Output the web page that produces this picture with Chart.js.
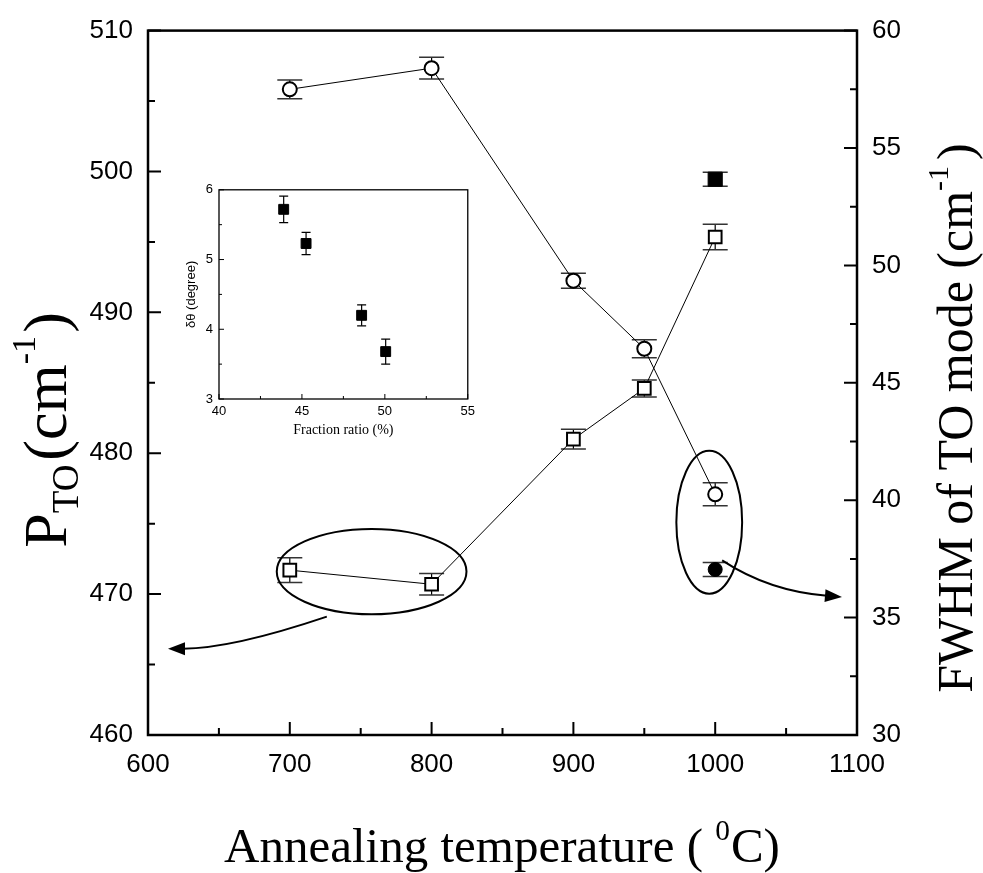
<!DOCTYPE html>
<html><head><meta charset="utf-8">
<script src="https://cdn.jsdelivr.net/npm/chart.js@4.4.0/dist/chart.umd.min.js"></script>
<style>
html,body{margin:0;padding:0;background:#fff;}
#wrap{position:relative;width:983px;height:873px;overflow:hidden;}
#main{position:absolute;left:0;top:0;}
#inset{position:absolute;left:150px;top:176px;}
</style></head><body>
<div id="wrap"><canvas id="main" width="983" height="873"></canvas><canvas id="inset" width="330" height="264"></canvas></div>
<script>
// ---- data ----
const temps = [700, 800, 900, 950, 1000];
const ptoValues = [471.7, 470.7, 481.0, 484.6, 495.35];
const ptoErrors = [0.88, 0.77, 0.7, 0.6, 0.9];
const fwhmValues = [57.5, 58.4, 49.35, 46.45, 40.25];
const fwhmErrors = [0.4, 0.46, 0.32, 0.38, 0.49];
const extraTemps = [1000];
const ptoExtra = [499.45];
const ptoExtraErrors = [0.5];
const fwhmExtra = [37.05];
const fwhmExtraErrors = [0.3];
const fractionRatio = [43.9, 45.25, 48.6, 50.05];
const deltaTheta = [5.72, 5.23, 4.2, 3.68];
const deltaThetaErrors = [0.19, 0.16, 0.15, 0.18];

// annotations (data coordinates: x = temperature, y = left axis)
const ellipses = [
  {cx: 757.7, cy: 471.6, rx: 66.9, ry: 3.03},
  {cx: 995.8, cy: 475.1, rx: 23.2, ry: 5.07}
];
const arrows = [
  {from: [726.1, 468.4], ctrl: [659.2, 466.13], to: [614.1, 466.13]},
  {from: [1004.9, 472.39], ctrl: [1038, 470.2], to: [1089.4, 469.8]}
];

const SANS = "'Liberation Sans', Arial, sans-serif";
const SERIF = "'Liberation Serif', 'Times New Roman', serif";
const plainLabel = v => String(v);

// ---- plugins ----
const errorBarPlugin = {
  id: 'errbars',
  beforeDatasetsDraw(chart) {
    const ctx = chart.ctx;
    chart.data.datasets.forEach((ds, i) => {
      if (!ds.errors) return;
      const meta = chart.getDatasetMeta(i);
      const ys = chart.scales[meta.yAxisID];
      ds.data.forEach((p, j) => {
        const x = meta.data[j].x;
        const yt = ys.getPixelForValue(p.y + ds.errors[j]);
        const yb = ys.getPixelForValue(p.y - ds.errors[j]);
        ctx.save();
        ctx.strokeStyle = '#000';
        ctx.lineWidth = 1.2;
        ctx.beginPath(); ctx.moveTo(x, yt); ctx.lineTo(x, yb); ctx.stroke();
        ctx.strokeStyle = ds.capColor || '#333';
        ctx.lineWidth = ds.capLine || 1.5;
        const hw = ds.capHalf;
        ctx.beginPath();
        ctx.moveTo(x - hw, yt); ctx.lineTo(x + hw, yt);
        ctx.moveTo(x - hw, yb); ctx.lineTo(x + hw, yb);
        ctx.stroke();
        ctx.restore();
      });
    });
  }
};

function makeFramePlugin(cfg) {
  return {
    id: 'frame_' + cfg.name,
    afterDraw(chart) {
      const ctx = chart.ctx, a = chart.chartArea;
      ctx.save();
      ctx.strokeStyle = '#000';
      ctx.lineWidth = cfg.frameWidth;
      ctx.strokeRect(a.left, a.top, a.right - a.left, a.bottom - a.top);
      ctx.lineWidth = cfg.tickWidth;
      ctx.beginPath();
      const xs = chart.scales.x;
      for (let v = xs.min; v <= xs.max + 1e-9; v += cfg.xMinor) {
        const px = xs.getPixelForValue(v);
        const major = Math.abs(v / cfg.xMajor - Math.round(v / cfg.xMajor)) < 1e-6;
        const len = major ? cfg.major : cfg.minor;
        ctx.moveTo(px, a.bottom); ctx.lineTo(px, a.bottom - len);
      }
      const ys = chart.scales.y;
      for (let v = ys.min; v <= ys.max + 1e-9; v += cfg.yMinor) {
        const py = ys.getPixelForValue(v);
        const major = Math.abs(v / cfg.yMajor - Math.round(v / cfg.yMajor)) < 1e-6;
        const len = major ? cfg.major : cfg.minor;
        ctx.moveTo(a.left, py); ctx.lineTo(a.left + len, py);
      }
      if (chart.scales.y1) {
        const rs = chart.scales.y1;
        for (let v = rs.min; v <= rs.max + 1e-9; v += cfg.rMinor) {
          const py = rs.getPixelForValue(v);
          const major = Math.abs(v / cfg.rMajor - Math.round(v / cfg.rMajor)) < 1e-6;
          const len = major ? cfg.major : cfg.minor;
          ctx.moveTo(a.right, py); ctx.lineTo(a.right - len, py);
        }
      }
      ctx.stroke();
      ctx.restore();
    }
  };
}

const annotationPlugin = {
  id: 'annot',
  afterDatasetsDraw(chart) {
    const ctx = chart.ctx, xs = chart.scales.x, ys = chart.scales.y;
    const P = (pt) => [xs.getPixelForValue(pt[0]), ys.getPixelForValue(pt[1])];
    ctx.save();
    ctx.strokeStyle = '#000';
    ctx.fillStyle = '#000';
    ctx.lineWidth = 2;
    ellipses.forEach(e => {
      const c = P([e.cx, e.cy]);
      const rx = Math.abs(xs.getPixelForValue(e.cx + e.rx) - c[0]);
      const ry = Math.abs(ys.getPixelForValue(e.cy + e.ry) - c[1]);
      ctx.beginPath(); ctx.ellipse(c[0], c[1], rx, ry, 0, 0, Math.PI * 2); ctx.stroke();
    });
    arrows.forEach(ar => {
      const f = P(ar.from), c = P(ar.ctrl), t = P(ar.to);
      const ang = Math.atan2(t[1] - c[1], t[0] - c[0]);
      const L = 17, W = 6.5;
      const bx = t[0] - L * Math.cos(ang), by = t[1] - L * Math.sin(ang);
      ctx.beginPath(); ctx.moveTo(f[0], f[1]); ctx.quadraticCurveTo(c[0], c[1], bx + 2 * Math.cos(ang), by + 2 * Math.sin(ang)); ctx.stroke();
      ctx.beginPath();
      ctx.moveTo(t[0], t[1]);
      ctx.lineTo(bx - W * Math.sin(ang), by + W * Math.cos(ang));
      ctx.lineTo(bx + W * Math.sin(ang), by - W * Math.cos(ang));
      ctx.closePath(); ctx.fill();
    });
    ctx.restore();
  }
};

function drawComposite(ctx, segs, base, cx, cy, rot, family) {
  ctx.save();
  ctx.translate(cx, cy);
  if (rot) ctx.rotate(rot);
  ctx.fillStyle = '#000';
  ctx.textBaseline = 'alphabetic';
  ctx.textAlign = 'left';
  let total = 0;
  segs.forEach(s => { ctx.font = (base * s.s) + 'px ' + family; s.w = ctx.measureText(s.t).width; total += s.w + (s.gap || 0) * base; });
  let x = -total / 2;
  segs.forEach(s => {
    ctx.font = (base * s.s) + 'px ' + family;
    ctx.fillText(s.t, x, (s.dy || 0) * base);
    x += s.w + (s.gap || 0) * base;
  });
  ctx.restore();
}

const titlePlugin = {
  id: 'titles',
  afterDraw(chart) {
    const ctx = chart.ctx;
    drawComposite(ctx, [
      {t: 'P', s: 1}, {t: 'TO', s: 0.6, dy: 0.2, gap: 0.06}, {t: '(cm', s: 1},
      {t: '-1', s: 0.55, dy: -0.5, gap: 0.05}, {t: ')', s: 1}
    ], 62, 66, 430, -Math.PI / 2, SERIF);
    drawComposite(ctx, [
      {t: 'FWHM of TO mode (cm', s: 1}, {t: '-1', s: 0.6, dy: -0.48, gap: 0.12}, {t: ')', s: 1}
    ], 50, 972, 418, -Math.PI / 2, SERIF);
    drawComposite(ctx, [
      {t: 'Annealing temperature ( ', s: 1}, {t: '0', s: 0.6, dy: -0.45, gap: 0.02}, {t: 'C)', s: 1}
    ], 49, 502, 862, 0, SERIF);
  }
};

// ---- main chart ----
new Chart(document.getElementById('main'), {
  type: 'scatter',
  data: {
    datasets: [
      {data: temps.map((t, i) => ({x: t, y: ptoValues[i]})), yAxisID: 'y', showLine: true,
       borderColor: '#000', borderWidth: 1, pointStyle: 'rect', pointRadius: 9, pointBorderWidth: 2,
       pointBackgroundColor: '#fff', pointBorderColor: '#000', errors: ptoErrors, capHalf: 12.5},
      {data: temps.map((t, i) => ({x: t, y: fwhmValues[i]})), yAxisID: 'y1', showLine: true,
       borderColor: '#000', borderWidth: 1, pointStyle: 'circle', pointRadius: 7, pointBorderWidth: 2,
       pointBackgroundColor: '#fff', pointBorderColor: '#000', errors: fwhmErrors, capHalf: 12.5},
      {data: extraTemps.map((t, i) => ({x: t, y: ptoExtra[i]})), yAxisID: 'y', showLine: false,
       pointStyle: 'rect', pointRadius: 10, pointBorderWidth: 1, pointBackgroundColor: '#000',
       pointBorderColor: '#000', errors: ptoExtraErrors, capHalf: 12.5},
      {data: extraTemps.map((t, i) => ({x: t, y: fwhmExtra[i]})), yAxisID: 'y1', showLine: false,
       pointStyle: 'circle', pointRadius: 7, pointBorderWidth: 1, pointBackgroundColor: '#000',
       pointBorderColor: '#000', errors: fwhmExtraErrors, capHalf: 12.5}
    ]
  },
  options: {
    responsive: false, animation: false, devicePixelRatio: 1,
    layout: {padding: {top: 25, left: 0, right: 0, bottom: 0}},
    plugins: {legend: {display: false}, tooltip: {enabled: false}},
    scales: {
      x: {type: 'linear', position: 'bottom', min: 600, max: 1100,
          grid: {display: false, drawTicks: false}, border: {display: false},
          ticks: {stepSize: 100, color: '#000', padding: 14, font: {family: SANS, size: 26}, callback: plainLabel},
          afterFit: s => { s.height = 138; }},
      y: {type: 'linear', position: 'left', min: 460, max: 510,
          grid: {display: false, drawTicks: false}, border: {display: false},
          ticks: {stepSize: 10, color: '#000', padding: 15, font: {family: SANS, size: 26}, callback: plainLabel},
          afterFit: s => { s.width = 148; }},
      y1: {type: 'linear', position: 'right', min: 30, max: 60,
          grid: {display: false, drawTicks: false}, border: {display: false},
          ticks: {stepSize: 5, color: '#000', padding: 15, font: {family: SANS, size: 26}, callback: plainLabel},
          afterFit: s => { s.width = 126; }}
    }
  },
  plugins: [errorBarPlugin, makeFramePlugin({name: 'main', frameWidth: 2.5, tickWidth: 2, major: 13, minor: 7,
    xMinor: 50, xMajor: 100, yMinor: 5, yMajor: 10, rMinor: 2.5, rMajor: 5}), annotationPlugin, titlePlugin]
});

// ---- inset chart ----
const insetTitles = {
  id: 'insetTitles',
  afterDraw(chart) {
    const ctx = chart.ctx, a = chart.chartArea;
    ctx.save();
    ctx.fillStyle = '#000';
    ctx.font = '14px ' + SERIF;
    ctx.textAlign = 'center'; ctx.textBaseline = 'middle';
    ctx.fillText('Fraction ratio (%)', (a.left + a.right) / 2, a.bottom + 31);
    ctx.translate(a.left - 28, (a.top + a.bottom) / 2);
    ctx.rotate(-Math.PI / 2);
    ctx.font = '13px ' + SANS;
    ctx.fillText('\u03b4\u03b8 (degree)', 0, 0);
    ctx.restore();
  }
};

new Chart(document.getElementById('inset'), {
  type: 'scatter',
  data: {
    datasets: [
      {data: fractionRatio.map((f, i) => ({x: f, y: deltaTheta[i]})), yAxisID: 'y', showLine: false,
       pointStyle: 'rect', pointRadius: 7, pointBorderWidth: 1, pointBackgroundColor: '#000',
       pointBorderColor: '#000', errors: deltaThetaErrors, capHalf: 4.5, capColor: '#000', capLine: 1.2}
    ]
  },
  options: {
    responsive: false, animation: false, devicePixelRatio: 1,
    layout: {padding: {top: 10, left: 0, right: 11, bottom: 0}},
    plugins: {legend: {display: false}, tooltip: {enabled: false}},
    scales: {
      x: {type: 'linear', position: 'bottom', min: 40, max: 55,
          grid: {display: false, drawTicks: false}, border: {display: false},
          ticks: {stepSize: 5, color: '#000', padding: 5, font: {family: SANS, size: 13}, callback: plainLabel},
          afterFit: s => { s.height = 41; }},
      y: {type: 'linear', position: 'left', min: 3, max: 6,
          grid: {display: false, drawTicks: false}, border: {display: false},
          ticks: {stepSize: 1, color: '#000', padding: 6, font: {family: SANS, size: 13}, callback: plainLabel},
          afterFit: s => { s.width = 69; }}
    }
  },
  plugins: [errorBarPlugin, makeFramePlugin({name: 'inset', frameWidth: 1.3, tickWidth: 1, major: 5, minor: 3,
    xMinor: 2.5, xMajor: 5, yMinor: 0.5, yMajor: 1}), insetTitles]
});
</script>
</body></html>
